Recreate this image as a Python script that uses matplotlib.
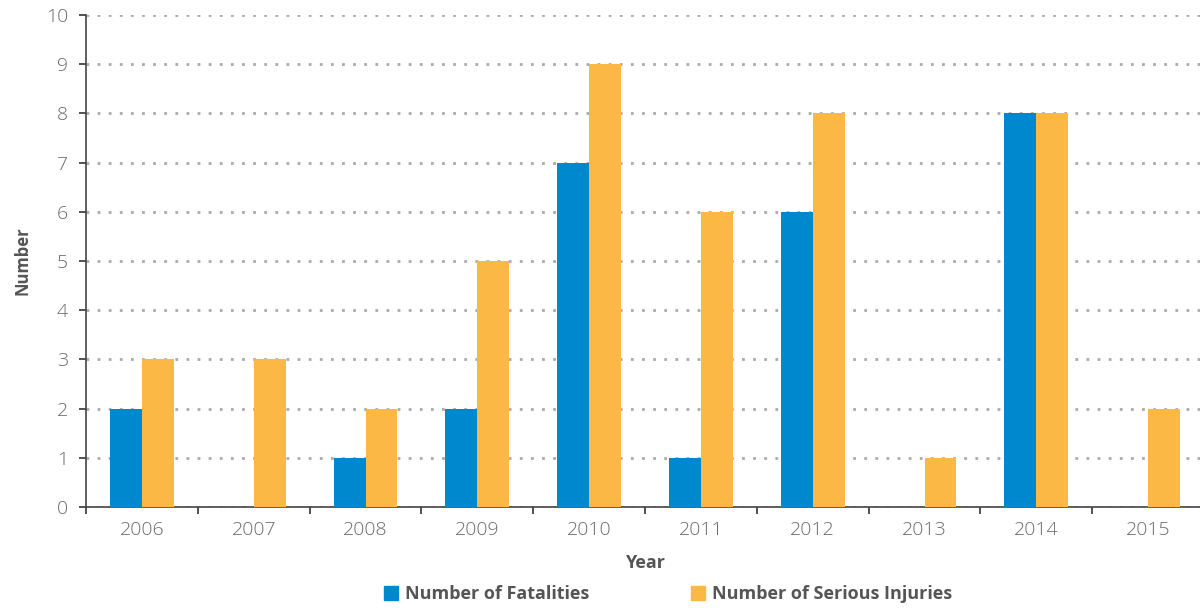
import matplotlib.pyplot as plt
import numpy as np
from matplotlib.patches import Patch

years = ['2006', '2007', '2008', '2009', '2010', '2011', '2012', '2013', '2014', '2015']
fatalities = [2, 0, 1, 2, 7, 1, 6, 0, 8, 0]
serious_injuries = [3, 3, 2, 5, 9, 6, 8, 1, 8, 2]

blue = '#0088ce'
orange = '#fbb845'
txt = '#6a6a6a'

plt.rcParams['font.family'] = ['Open Sans', 'DejaVu Sans']

fig = plt.figure(figsize=(12, 6.08), dpi=100)
ax = fig.add_axes([86/1200, 1-507/608, 1118/1200, 492/608])

x = np.arange(len(years))
w = 0.285
ax.bar(x - w/2, fatalities, w, color=blue, zorder=3)
ax.bar(x + w/2, serious_injuries, w, color=orange, zorder=3)

ax.set_xlim(-0.5, len(years) - 0.5)
ax.set_ylim(0, 10)
ax.set_yticks(range(0, 11))
ax.set_xticks(x)
ax.set_xticklabels(years)
ax.set_xticks(np.arange(-0.5, len(years), 1), minor=True)
ax.tick_params(axis='x', which='major', length=0, pad=10, labelsize=14, labelcolor=txt)
ax.tick_params(axis='x', which='minor', length=5, width=1.2, color='#333333', direction='out')
ax.tick_params(axis='y', length=5, width=1.2, color='#333333', pad=8, labelsize=14, labelcolor=txt)
for lab in ax.get_xticklabels() + ax.get_yticklabels():
    lab.set_fontweight('light')

ax.grid(axis='y', color='#aaaaaa', linestyle=(0, (1, 3)), linewidth=2, zorder=0)
for s in ['top', 'right']:
    ax.spines[s].set_visible(False)
for s in ['left', 'bottom']:
    ax.spines[s].set_color('#444444')
    ax.spines[s].set_linewidth(1.2)

ax.set_ylabel('Number', fontsize=12, fontweight='bold', color='#555555', labelpad=10)
ax.set_xlabel('Year', fontsize=13, fontweight='bold', color='#555555', labelpad=11)

handles = [Patch(color=blue, label='Number of Fatalities'),
           Patch(color=orange, label='Number of Serious Injuries')]
leg = fig.legend(handles=handles, loc='center', bbox_to_anchor=(668/1200, 1-594/608), ncol=2,
                 frameon=False, handlelength=0.8, handleheight=0.8, columnspacing=5.6,
                 handletextpad=0.4, prop={'size': 13, 'weight': 'bold'})
for t in leg.get_texts():
    t.set_color('#555555')

fig.savefig('out.png', dpi=100)
